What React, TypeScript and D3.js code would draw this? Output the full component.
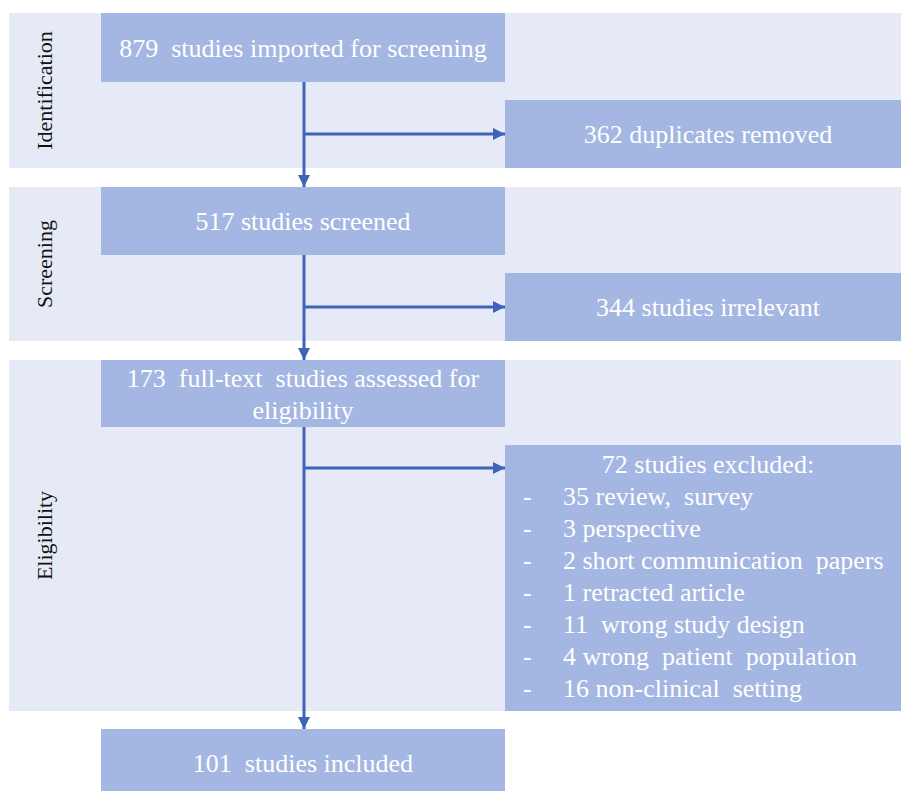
import { useEffect, useRef } from "react";
import * as d3 from "d3";

// Phases on the left, one per shaded band
const phases = ["Identification", "Screening", "Eligibility"];

// Main flow boxes (left column)
const mainBoxes = [
  ["879  studies imported for screening"],
  ["517 studies screened"],
  ["173  full-text  studies assessed for", "eligibility"],
  ["101  studies included"],
];

// Exclusion boxes (right column)
const exclusionTitles = ["362 duplicates removed", "344 studies irrelevant", "72 studies excluded:"];
const exclusionReasons = [
  "35 review,  survey",
  "3 perspective",
  "2 short communication  papers",
  "1 retracted article",
  "11  wrong study design",
  "4 wrong  patient  population",
  "16 non-clinical  setting",
];

export default function App() {
  const ref = useRef<SVGSVGElement | null>(null);

  useEffect(() => {
    if (!ref.current) return;
    const svg = d3.select(ref.current);
    svg.selectAll("*").remove();

    const font = "'Liberation Serif', 'Times New Roman', serif";
    const bandFill = "#e6eaf6";
    const boxFill = "#a4b6e2";
    const arrowCol = "#3f63b9";

    // layout
    const bandX0 = 9;
    const width = 901;
    const colX = d3.scaleOrdinal<string, number>().domain(["main", "side"]).range([101, 505]);
    const colW = 404;
    const sideW = width - 505;
    const bands = [
      { y0: 13, y1: 168 },
      { y0: 187, y1: 341 },
      { y0: 360, y1: 711 },
    ];
    const mainY = [
      { y0: 13, y1: 82 },
      { y0: 187, y1: 255 },
      { y0: 360, y1: 427 },
      { y0: 729, y1: 800 },
    ];
    const sideY = [
      { y0: 100, y1: 168 },
      { y0: 273, y1: 341 },
      { y0: 445, y1: 711 },
    ];
    const branchY = [134, 307, 468];
    const flowX = 304;

    // bands
    svg.append("g")
      .selectAll("rect")
      .data(bands)
      .join("rect")
      .attr("x", bandX0)
      .attr("y", d => d.y0)
      .attr("width", width - bandX0)
      .attr("height", d => d.y1 - d.y0)
      .attr("fill", bandFill);

    // phase labels
    svg.append("g")
      .selectAll("text")
      .data(phases)
      .join("text")
      .attr("transform", (_, i) => `translate(45,${(bands[i].y0 + bands[i].y1) / 2}) rotate(-90)`)
      .attr("text-anchor", "middle")
      .attr("dy", "0.33em")
      .attr("font-family", font)
      .attr("font-size", 22)
      .attr("fill", "#111")
      .text(d => d);

    // main boxes
    const mg = svg.append("g");
    mainBoxes.forEach((lines, i) => {
      const b = mainY[i];
      mg.append("rect")
        .attr("x", colX("main"))
        .attr("y", b.y0)
        .attr("width", colW)
        .attr("height", b.y1 - b.y0)
        .attr("fill", boxFill);
      const cy = i === 3 ? 763 : (b.y0 + b.y1) / 2;
      lines.forEach((t, j) => {
        mg.append("text")
          .attr("x", colX("main") + colW / 2)
          .attr("y", cy + (j - (lines.length - 1) / 2) * 32)
          .attr("dy", "0.35em")
          .attr("text-anchor", "middle")
          .attr("font-family", font)
          .attr("font-size", 26)
          .attr("fill", "#fff")
          .style("white-space", "pre")
          .text(t);
      });
    });

    // side boxes
    const sg = svg.append("g");
    exclusionTitles.forEach((t, i) => {
      const b = sideY[i];
      sg.append("rect")
        .attr("x", colX("side"))
        .attr("y", b.y0)
        .attr("width", sideW)
        .attr("height", b.y1 - b.y0)
        .attr("fill", boxFill);
      sg.append("text")
        .attr("x", colX("side") + sideW / 2 + 5)
        .attr("y", i === 2 ? 464 : (b.y0 + b.y1) / 2)
        .attr("dy", "0.35em")
        .attr("text-anchor", "middle")
        .attr("font-family", font)
        .attr("font-size", 26)
        .attr("fill", "#fff")
        .style("white-space", "pre")
        .text(t);
    });

    const reasonY = d3.scaleLinear().domain([0, 1]).range([496, 528]);
    const rg = sg.append("g")
      .attr("font-family", font)
      .attr("font-size", 26)
      .attr("fill", "#fff");
    rg.selectAll("text.dash")
      .data(exclusionReasons)
      .join("text")
      .attr("class", "dash")
      .attr("x", 523)
      .attr("y", (_, i) => reasonY(i))
      .attr("dy", "0.35em")
      .text("-");
    rg.selectAll("text.reason")
      .data(exclusionReasons)
      .join("text")
      .attr("class", "reason")
      .attr("x", 563)
      .attr("y", (_, i) => reasonY(i))
      .attr("dy", "0.35em")
      .style("white-space", "pre")
      .text(d => d);

    // arrows
    const defs = svg.append("defs");
    defs.append("marker")
      .attr("id", "head")
      .attr("viewBox", "0 0 12 12")
      .attr("refX", 12)
      .attr("refY", 6)
      .attr("markerWidth", 12)
      .attr("markerHeight", 12)
      .attr("markerUnits", "userSpaceOnUse")
      .attr("orient", "auto")
      .append("path")
      .attr("d", "M0,0L12,6L0,12Z")
      .attr("fill", arrowCol);

    const ag = svg.append("g")
      .attr("stroke", arrowCol)
      .attr("stroke-width", 3)
      .attr("fill", "none");
    const line = d3.line();
    for (let i = 0; i < 3; i++) {
      ag.append("path")
        .attr("d", line([[flowX, mainY[i].y1], [flowX, mainY[i + 1].y0]]))
        .attr("marker-end", "url(#head)");
      ag.append("path")
        .attr("d", line([[flowX, branchY[i]], [colX("side"), branchY[i]]]))
        .attr("marker-end", "url(#head)");
    }
  }, []);

  return (
    <svg
      ref={ref}
      width={901}
      height={791}
      style={{ position: "absolute", left: 0, top: 0, background: "#fff" }}
    />
  );
}
